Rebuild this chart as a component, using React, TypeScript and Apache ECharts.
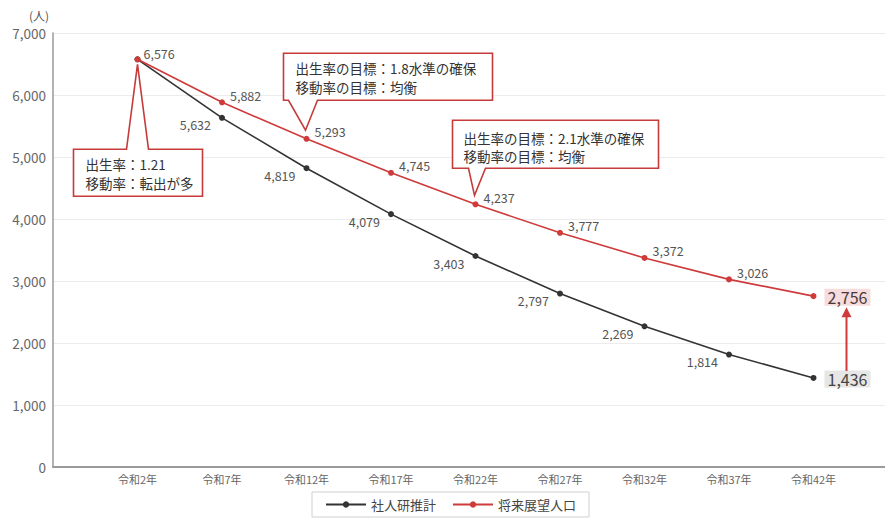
import React, { useEffect, useRef } from "react";
import * as echarts from "echarts";

const categories = ["令和2年", "令和7年", "令和12年", "令和17年", "令和22年", "令和27年", "令和32年", "令和37年", "令和42年"];
const ipssValues = [6576, 5632, 4819, 4079, 3403, 2797, 2269, 1814, 1436];
const visionValues = [6576, 5882, 5293, 4745, 4237, 3777, 3372, 3026, 2756];
const seriesNames = ["社人研推計", "将来展望人口"];
const unitLabel = "(人)";
const yMin = 0;
const yMax = 7000;
const yInterval = 1000;

const calloutCategories = ["令和2年", "令和12年", "令和22年"];
const calloutTexts = [
  "出生率：1.21\n移動率：転出が多",
  "出生率の目標：1.8水準の確保\n移動率の目標：均衡",
  "出生率の目標：2.1水準の確保\n移動率の目標：均衡",
];

// layout of each callout relative to its anchor point (pixels)
const calloutLayouts = [
  { dir: "up", box: [-64, 90, 65, 137], base: [-11, 11], apex: [0, 5], text: [-52, 95.5] },
  { dir: "down", box: [-23, -85.6, 186, -38.6], base: [-18, 11], apex: [-1, -8.6], text: [-11, -79.6] },
  { dir: "down", box: [-23, -84, 183, -36], base: [-7, 10], apex: [-1, -9], text: [-12, -76] },
];

const RED = "#cf3a3a";
const BLACK = "#333333";
const FONT = '"Noto Sans CJK JP", "Noto Sans", sans-serif';

export default function App() {
  const ref = useRef<HTMLDivElement>(null);

  useEffect(() => {
    if (!ref.current) return;
    const chart = echarts.init(ref.current, null, { renderer: "svg" });
    const last = categories.length - 1;
    const axisData = ["", ...categories, ""];
    const fmt = (v: number) => v.toLocaleString("en-US");

    const endLabel = (bg: string, color: string) => ({
      show: true,
      position: "right",
      distance: 8,
      offset: [0, 1],
      formatter: (p: any) => fmt(p.value[1]),
      fontSize: 16,
      color,
      backgroundColor: bg,
      padding: [1, 3, 0, 3],
      fontFamily: FONT,
    });

    const blackData = ipssValues.map((v, i) => {
      const item: any = { value: [i + 1, v] };
      if (i === 0) item.label = { show: false };
      if (i === last) item.label = endLabel("#e6e6e6", "#444");
      return item;
    });
    const redData = visionValues.map((v, i) => {
      const item: any = { value: [i + 1, v] };
      if (i === 0) item.label = { offset: [0, -6], distance: 3 };
      if (i === last) item.label = endLabel("#f6dcdc", "#4a3a3a");
      return item;
    });

    const calloutData = calloutCategories.map((c) => {
      const idx = categories.indexOf(c);
      return [idx + 1, visionValues[idx]];
    });

    const option: any = {
      animation: false,
      textStyle: { fontFamily: FONT },
      grid: { left: 53, right: -13, top: 33, bottom: 53, containLabel: false, outerBoundsMode: "none" },
      legend: {
        data: seriesNames,
        left: 312,
        top: 492,
        padding: [6, 13, 6, 13],
        itemGap: 16,
        itemWidth: 40,
        itemHeight: 8,
        borderColor: "#cfcfcf",
        borderWidth: 1,
        textStyle: { fontSize: 13, color: "#444", fontFamily: FONT },
      },
      xAxis: {
        type: "category",
        data: axisData,
        boundaryGap: false,
        axisLine: { lineStyle: { color: "#9a9a9a", width: 2 } },
        axisTick: { show: false },
        axisLabel: { interval: 0, color: "#666", fontSize: 11, margin: 6, fontFamily: FONT },
        splitLine: { show: false },
      },
      yAxis: {
        type: "value",
        min: yMin,
        max: yMax,
        interval: yInterval,
        name: unitLabel,
        nameLocation: "end",
        nameGap: 12,
        nameTextStyle: { align: "right", color: "#555", fontSize: 12, padding: [0, 4, 0, 0], fontFamily: FONT },
        axisLine: { show: true, lineStyle: { color: "#9a9a9a", width: 1.5 } },
        axisTick: { show: false },
        axisLabel: { color: "#666", fontSize: 13.5, margin: 7, formatter: (v: number) => fmt(v), fontFamily: FONT },
        splitLine: { lineStyle: { color: "#ececec", width: 1 } },
      },
      series: [
        {
          name: seriesNames[0],
          type: "line",
          data: blackData,
          symbol: "circle",
          symbolSize: 6,
          color: BLACK,
          lineStyle: { color: BLACK, width: 1.6 },
          itemStyle: { color: BLACK },
          z: 2,
          label: {
            show: true,
            position: "left",
            distance: 8,
            offset: [0, 7],
            color: "#555",
            fontSize: 12.5,
            fontFamily: FONT,
            formatter: (p: any) => fmt(p.value[1]),
          },
        },
        {
          name: seriesNames[1],
          type: "line",
          data: redData,
          symbol: "circle",
          symbolSize: 6,
          color: RED,
          lineStyle: { color: RED, width: 1.6 },
          itemStyle: { color: RED },
          z: 3,
          label: {
            show: true,
            position: "right",
            distance: 5,
            offset: [0, -7],
            color: "#555",
            fontSize: 12.5,
            fontFamily: FONT,
            formatter: (p: any) => fmt(p.value[1]),
          },
        },
        {
          name: "callouts",
          type: "custom",
          z: 5,
          silent: true,
          data: calloutData,
          encode: { x: 0, y: 1 },
          renderItem: (params: any, api: any) => {
            const L = calloutLayouts[params.dataIndex];
            const text = calloutTexts[params.dataIndex];
            const [px, py] = api.coord([api.value(0), api.value(1)]);
            const x0 = px + L.box[0], y0 = py + L.box[1], x1 = px + L.box[2], y1 = py + L.box[3];
            const bl = px + L.base[0], br = px + L.base[1];
            const ax = px + L.apex[0], ay = py + L.apex[1];
            const pts =
              L.dir === "up"
                ? [[x0, y0], [bl, y0], [ax, ay], [br, y0], [x1, y0], [x1, y1], [x0, y1]]
                : [[x0, y0], [x1, y0], [x1, y1], [br, y1], [ax, ay], [bl, y1], [x0, y1]];
            return {
              type: "group",
              children: [
                {
                  type: "polygon",
                  shape: { points: pts },
                  style: { fill: "#ffffff", stroke: "#c63a3a", lineWidth: 1.6 },
                },
                {
                  type: "text",
                  x: px + L.text[0],
                  y: py + L.text[1],
                  style: {
                    text,
                    fill: "#333",
                    fontSize: 13.5,
                    fontFamily: FONT,
                    lineHeight: 18.5,
                    align: "left",
                    verticalAlign: "top",
                  },
                },
              ],
            };
          },
        },
        {
          name: "arrow",
          type: "custom",
          z: 5,
          silent: true,
          data: [[last + 1, ipssValues[last], visionValues[last]]],
          encode: { x: 0, y: [1, 2] },
          renderItem: (params: any, api: any) => {
            const [bx, by] = api.coord([api.value(0), api.value(1)]);
            const [, ry] = api.coord([api.value(0), api.value(2)]);
            const x = bx + 33;
            const tip = ry + 11;
            return {
              type: "group",
              children: [
                {
                  type: "line",
                  shape: { x1: x, y1: by - 7, x2: x, y2: tip + 9 },
                  style: { stroke: "#d03a3a", lineWidth: 2 },
                },
                {
                  type: "polygon",
                  shape: { points: [[x, tip], [x - 5, tip + 10], [x + 5, tip + 10]] },
                  style: { fill: "#d03a3a" },
                },
              ],
            };
          },
        },
      ],
    };

    chart.setOption(option);
    return () => chart.dispose();
  }, []);

  return (
    <div
      ref={ref}
      style={{ position: "fixed", left: 0, top: 0, width: 885, height: 520, background: "#fff" }}
    />
  );
}
